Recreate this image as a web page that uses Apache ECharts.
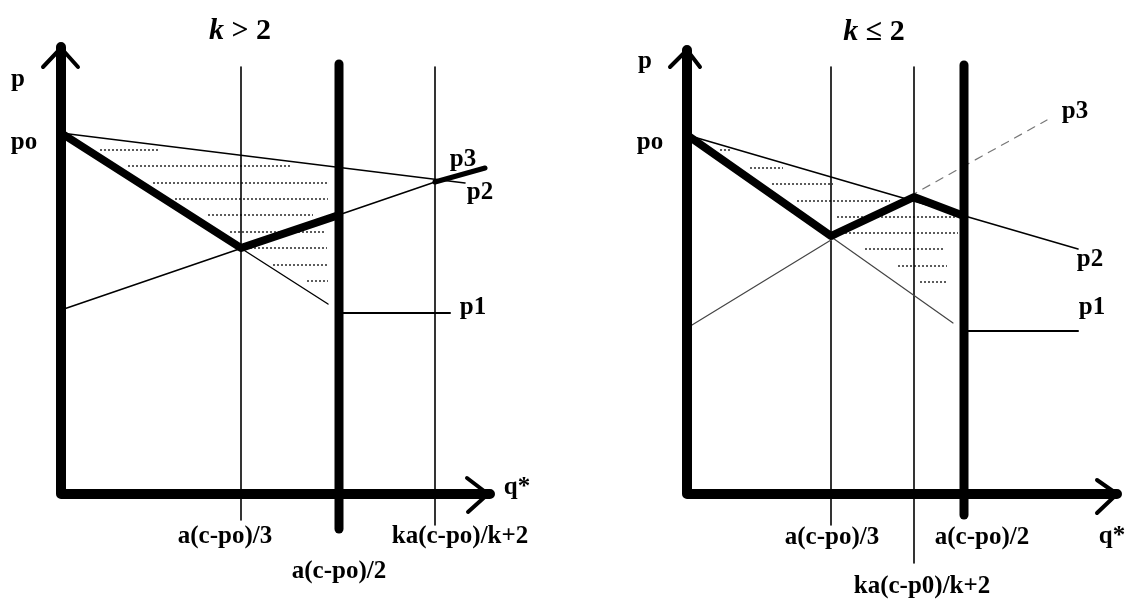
<!DOCTYPE html>
<html>
<head>
<meta charset="utf-8">
<title>k > 2 / k ≤ 2</title>
<script src="https://cdn.jsdelivr.net/npm/echarts@6/dist/echarts.min.js"></script>
<style>
  html, body { margin: 0; padding: 0; background: #fff; }
  #main { width: 1132px; height: 602px; }
</style>
</head>
<body>
<div id="main"></div>
<script>
// units: q* along x, p along y (same arbitrary scale in both panels)

// ---- left panel: k > 2
var leftAxis = [[0, 44.7], [0, 0], [42.9, 0]];
var leftArrowUp = [[-1.8, 42.7], [0, 44.6], [1.7, 42.7]];
var leftArrowRight = [[40.6, 1.6], [42.7, 0], [40.7, -1.8]];
var leftThird = [[18.0, -2.6], [18.0, 42.7]];
var leftHalf = [[27.8, -3.5], [27.8, 43.0]];
var leftK = [[37.4, -3.1], [37.4, 42.7]];
var leftP2 = [[0, 36.1], [40.4, 31.1]];
var leftP3 = [[0, 18.4], [37.4, 31.2]];
var leftP3Tail = [[37.4, 31.2], [42.4, 32.6]];
var leftP1 = [[0, 36.1], [26.7, 19.0]];
var leftP1Flat = [[28.2, 18.1], [38.9, 18.1]];
var leftPath = [[0, 36.1], [18.0, 24.6], [27.8, 27.9]];
// hatching: [p, q from, q to]
var leftHatch = [
  [34.4, 3.9, 9.7], [32.8, 6.7, 22.9], [31.1, 9.2, 26.7],
  [29.5, 11.4, 26.7], [27.9, 14.7, 25.2], [26.2, 16.9, 26.4],
  [24.6, 18.9, 26.6], [22.9, 21.2, 26.6], [21.3, 24.6, 26.7]
];
var leftLabels = [
  ['p', -4.3, 41.4], ['po', -3.7, 35.1],
  ['p3', 40.2, 33.4], ['p2', 41.9, 30.1], ['p1', 41.2, 18.6],
  ['q*', 45.6, 0.6],
  ['a(c-po)/3', 16.4, -4.3], ['a(c-po)/2', 27.8, -7.8], ['ka(c-po)/k+2', 39.9, -4.3]
];

// ---- right panel: k <= 2
var rightAxis = [[0, 44.4], [0, 0], [43.0, 0]];
var rightArrowUp = [[-1.7, 42.7], [0, 44.4], [1.3, 42.7]];
var rightArrowRight = [[41.0, 1.4], [43.0, 0], [41.0, -1.9]];
var rightThird = [[14.4, -3.1], [14.4, 42.7]];
var rightK = [[22.7, -6.9], [22.7, 42.7]];
var rightHalf = [[27.7, -2.1], [27.7, 42.9]];
var rightP2 = [[0, 35.9], [39.1, 24.5]];
var rightP3Low = [[0.5, 16.9], [14.4, 25.4]];
var rightP3High = [[14.4, 25.4], [36.0, 37.4]];
var rightP1 = [[0, 35.9], [26.6, 17.1]];
var rightP1Flat = [[28.1, 16.3], [39.1, 16.3]];
var rightPath = [[0, 35.9], [14.4, 25.8], [22.7, 29.7], [27.7, 27.8]];
var rightHatch = [
  [34.4, 3.3, 4.3], [32.6, 6.3, 9.6], [31.0, 8.5, 14.6],
  [29.3, 11.0, 20.3], [27.7, 15.0, 27.0], [26.1, 15.0, 27.1],
  [24.5, 17.8, 25.8], [22.8, 21.1, 26.0], [21.2, 23.3, 26.0]
];
var rightLabels = [
  ['p', -4.2, 43.2], ['po', -3.7, 35.1],
  ['p3', 38.8, 38.2], ['p2', 40.3, 23.4], ['p1', 40.5, 18.6],
  ['q*', 42.5, -4.3],
  ['a(c-po)/3', 14.5, -4.4], ['a(c-po)/2', 29.5, -4.4], ['ka(c-p0)/k+2', 23.5, -9.3]
];

var serif = '"Liberation Serif", "DejaVu Serif", serif';

function seg(grid, pts, width, color, type) {
  return {
    type: 'line',
    xAxisIndex: grid,
    yAxisIndex: grid,
    data: pts,
    symbol: 'none',
    silent: true,
    clip: false,
    lineStyle: { width: width, color: color || '#000', type: type || 'solid', cap: 'round', join: 'round' }
  };
}

function hatch(grid, rows) {
  return {
    type: 'lines',
    coordinateSystem: 'cartesian2d',
    xAxisIndex: grid,
    yAxisIndex: grid,
    silent: true,
    lineStyle: { width: 1.5, color: '#000', type: [2, 2], opacity: 0.85 },
    data: rows.map(function (r) { return { coords: [[r[1], r[0]], [r[2], r[0]]] }; })
  };
}

function labels(grid, rows) {
  return {
    type: 'scatter',
    xAxisIndex: grid,
    yAxisIndex: grid,
    symbolSize: 0,
    silent: true,
    itemStyle: { color: '#000', opacity: 1 },
    label: {
      show: true, position: 'inside', formatter: '{b}',
      color: '#000', opacity: 1, fontFamily: serif, fontSize: 25, fontWeight: 'bold',
      textBorderWidth: 0
    },
    data: rows.map(function (r) { return { name: r[0], value: [r[1], r[2]] }; })
  };
}

var chart = echarts.init(document.getElementById('main'));

var titleStyle = {
  fontFamily: serif, fontSize: 30, fontWeight: 'bold', color: '#000',
  rich: { i: { fontFamily: serif, fontSize: 30, fontStyle: 'italic', fontWeight: 'bold', color: '#000' } }
};

chart.setOption({
  animation: false,
  backgroundColor: '#fff',
  title: [
    { text: '{i|k} > 2', left: 235, top: 11, textAlign: 'center', textStyle: titleStyle },
    { text: '{i|k} ≤ 2', left: 869, top: 12, textAlign: 'center', textStyle: titleStyle }
  ],
  grid: [
    { left: 1, top: 4, width: 560, height: 590 },
    { left: 627, top: 4, width: 505, height: 590 }
  ],
  xAxis: [
    { type: 'value', gridIndex: 0, min: -6, max: 50, show: false },
    { type: 'value', gridIndex: 1, min: -6, max: 44.5, show: false }
  ],
  yAxis: [
    { type: 'value', gridIndex: 0, min: -10, max: 49, show: false },
    { type: 'value', gridIndex: 1, min: -10, max: 49, show: false }
  ],
  series: [
    hatch(0, leftHatch),
    seg(0, leftThird, 1.6),
    seg(0, leftK, 1.6),
    seg(0, leftP2, 1.6),
    seg(0, leftP3, 1.6),
    seg(0, leftP1, 1.4),
    seg(0, leftP1Flat, 2),
    seg(0, leftP3Tail, 5),
    seg(0, leftPath, 8),
    seg(0, leftHalf, 9),
    seg(0, leftAxis, 10),
    seg(0, leftArrowUp, 4),
    seg(0, leftArrowRight, 4),
    labels(0, leftLabels),

    hatch(1, rightHatch),
    seg(1, rightThird, 1.6),
    seg(1, rightK, 1.6),
    seg(1, rightP2, 1.6),
    seg(1, rightP3Low, 1.2, '#444'),
    seg(1, rightP3High, 1.2, '#777', [8, 7]),
    seg(1, rightP1, 1.2, '#444'),
    seg(1, rightP1Flat, 2),
    seg(1, rightPath, 8),
    seg(1, rightHalf, 9),
    seg(1, rightAxis, 10),
    seg(1, rightArrowUp, 4),
    seg(1, rightArrowRight, 4),
    labels(1, rightLabels)
  ]
});
</script>
</body>
</html>
